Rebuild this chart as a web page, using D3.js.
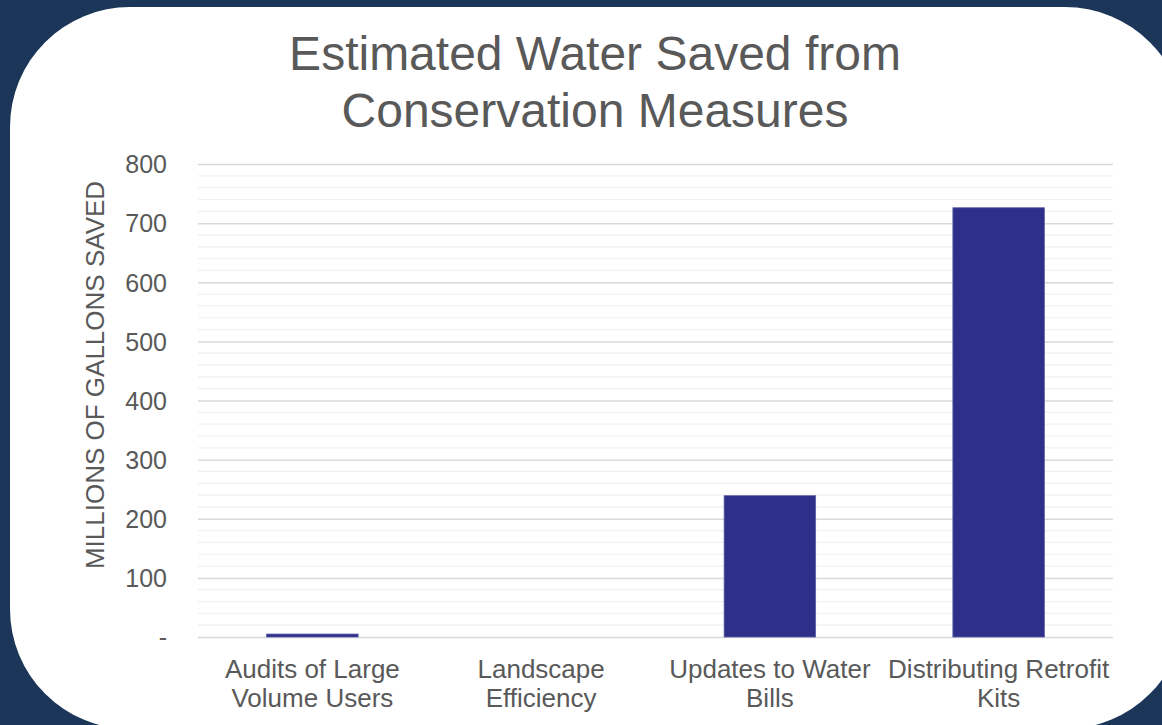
<!DOCTYPE html>
<html>
<head>
<meta charset="utf-8">
<script src="https://cdn.jsdelivr.net/npm/d3@7"></script>
<style>
  body { margin: 0; background: #1c3659; overflow: hidden; }
  text { font-family: "Liberation Sans", Arial, sans-serif; fill: #595959; }
</style>
</head>
<body>
<script>
// chart data
var categories = [
	["Audits of Large", "Volume Users"],
	["Landscape", "Efficiency"],
	["Updates to Water", "Bills"],
	["Distributing Retrofit", "Kits"]
];
var saved = [5, 0, 239, 726];
var yTicks = [0, 100, 200, 300, 400, 500, 600, 700, 800];
var titleLines = ["Estimated Water Saved from", "Conservation Measures"];
var yTitle = "MILLIONS OF GALLONS SAVED";

var W = 1162, H = 725;
var margin = { top: 164, right: 49, bottom: 88, left: 198 },
	width = W - margin.left - margin.right,
	height = H - margin.top - margin.bottom;

var svg = d3.select("body").append("svg")
	.attr("width", W)
	.attr("height", H);

// white card with big rounded corners
svg.append("rect")
	.attr("x", 10).attr("y", 7)
	.attr("width", 1175).attr("height", 722)
	.attr("rx", 120).attr("ry", 120)
	.attr("fill", "#ffffff");

// title
svg.append("text")
	.attr("x", 595)
	.attr("text-anchor", "middle")
	.style("font-size", "48px")
	.selectAll("tspan")
	.data(titleLines)
	.enter().append("tspan")
	.attr("x", 595)
	.attr("y", function(d, i) { return 70 + i * 57; })
	.text(function(d) { return d; });

var g = svg.append("g")
	.attr("transform", "translate(" + margin.left + "," + margin.top + ")");

var x = d3.scaleBand()
	.domain(d3.range(categories.length))
	.range([0, width])
	.paddingInner(0.6)
	.paddingOuter(0.3);

var y = d3.scaleLinear()
	.domain([0, 800])
	.range([height, 0]);

// minor gridlines every 20
var minor = d3.range(0, 801, 20).filter(function(v) { return v % 100 != 0; });
g.selectAll(".minor")
	.data(minor)
	.enter().append("line")
	.attr("x1", 0).attr("x2", width)
	.attr("y1", function(d) { return y(d); })
	.attr("y2", function(d) { return y(d); })
	.attr("stroke", "#f0f0f0")
	.attr("stroke-width", 1.2);

// major gridlines + y labels
var yAxis = g.append("g")
	.call(d3.axisLeft(y)
		.tickValues(yTicks)
		.tickSize(-width)
		.tickPadding(31)
		.tickFormat(function(d) { return d == 0 ? "-" : d; }));
yAxis.select(".domain").remove();
yAxis.selectAll("line")
	.attr("stroke", "#d9d9d9")
	.attr("stroke-width", 1.5);
yAxis.selectAll("text")
	.style("font-size", "25px")
	.attr("fill", "#595959")
	.attr("dy", "0.35em");

// y axis title
svg.append("text")
	.attr("transform", "translate(104,375) rotate(-90)")
	.attr("text-anchor", "middle")
	.style("font-size", "26px")
	.text(yTitle);

// bars
g.selectAll(".bar")
	.data(saved)
	.enter().append("rect")
	.attr("class", "bar")
	.attr("x", function(d, i) { return x(i); })
	.attr("width", x.bandwidth())
	.attr("y", function(d) { return y(d); })
	.attr("height", function(d) { return height - y(d); })
	.attr("fill", "#2e2f88")
	.attr("stroke", "#5c5ea8")
	.attr("stroke-width", 0.8)
	.style("display", function(d) { return d > 0 ? null : "none"; });

// category labels
var lab = g.selectAll(".cat")
	.data(categories)
	.enter().append("text")
	.attr("class", "cat")
	.attr("text-anchor", "middle")
	.style("font-size", "26px");
lab.selectAll("tspan")
	.data(function(d, i) { return d.map(function(s) { return { s: s, i: i }; }); })
	.enter().append("tspan")
	.attr("x", function(d) { return x(d.i) + x.bandwidth() / 2; })
	.attr("y", function(d, j) { return height + 41 + j * 29; })
	.text(function(d) { return d.s; });
</script>
</body>
</html>
